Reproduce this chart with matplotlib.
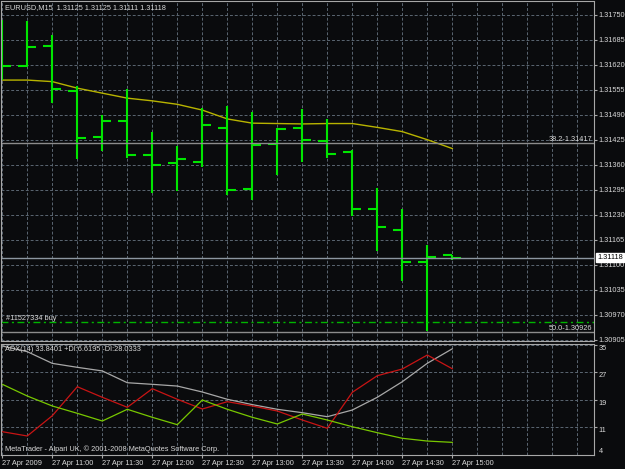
import matplotlib
matplotlib.use("Agg")
import matplotlib.pyplot as plt
import numpy as np

# M15 bars, 27 Apr 2009 10:30 .. 15:00
opens = [1.31650, 1.31616, 1.31669, 1.31552, 1.31432, 1.31474, 1.31386, 1.31364, 1.31367, 1.31456,
         1.31297, 1.31415, 1.31456, 1.31421, 1.31392, 1.31245, 1.31189, 1.31108, 1.31125]
highs = [1.31736, 1.31734, 1.31697, 1.31565, 1.31489, 1.31556, 1.31446, 1.31409, 1.31507, 1.31513,
         1.31496, 1.31456, 1.31504, 1.31479, 1.31398, 1.31299, 1.31244, 1.31151, 1.31125]
lows = [1.31580, 1.31615, 1.31520, 1.31375, 1.31396, 1.31377, 1.31286, 1.31292, 1.31353, 1.31281,
        1.31268, 1.31333, 1.31368, 1.31377, 1.31227, 1.31136, 1.31058, 1.30928, 1.31111]
closes = [1.31617, 1.31667, 1.31557, 1.31429, 1.31474, 1.31386, 1.31360, 1.31374, 1.31463, 1.31294,
          1.31410, 1.31454, 1.31424, 1.31389, 1.31246, 1.31197, 1.31108, 1.31121, 1.31118]
ma = [1.31580, 1.31580, 1.31576, 1.31559, 1.31546, 1.31533, 1.31526, 1.31517, 1.31502, 1.31479,
      1.31468, 1.31467, 1.31466, 1.31467, 1.31467, 1.31457, 1.31446, 1.31425, 1.31402]

adx_main = [34.65, 33.0, 29.6, 28.45, 27.4, 23.97, 23.5, 23.0, 21.27, 19.15,
            17.6, 16.24, 15.25, 14.08, 16.03, 19.73, 24.27, 29.62, 33.84]
plus_di = [23.51, 20.1, 17.2, 15.07, 12.83, 16.24, 13.91, 11.76, 18.94, 16.24,
           13.91, 11.96, 14.87, 13.12, 11.17, 9.43, 7.8, 7.0, 6.62]
minus_di = [9.72, 8.47, 14.37, 22.81, 19.73, 16.82, 22.23, 19.15, 16.32, 18.45,
            17.2, 15.74, 13.12, 10.71, 21.18, 26.01, 27.96, 32.03, 28.03]

time_labels = ["27 Apr 2009", "27 Apr 11:00", "27 Apr 11:30", "27 Apr 12:00", "27 Apr 12:30",
               "27 Apr 13:00", "27 Apr 13:30", "27 Apr 14:00", "27 Apr 14:30", "27 Apr 15:00"]
price_grid = [1.31750, 1.31685, 1.31620, 1.31555, 1.31490, 1.31425, 1.31360, 1.31295,
              1.31230, 1.31165, 1.31100, 1.31035, 1.30970, 1.30905]
adx_grid = [35, 27, 19, 11]

fibo_382 = 1.31417
fibo_500 = 1.30926
order_price = 1.30950
bid = 1.31118

BG = "#0a0b0d"
GRID = "#5b6672"
FRAME = "#a8a8a8"
TXT = "#d8d8d8"
BAR = "#00e600"

plt.rcParams["font.family"] = ["Liberation Sans", "DejaVu Sans"]
plt.rcParams["font.size"] = 5.3

W, H = 625, 469
fig = plt.figure(figsize=(6.25, 4.69), dpi=100, facecolor=BG)


def px_axes(left, top, right, bottom):
    return fig.add_axes([left / W, 1 - bottom / H, (right - left) / W, (bottom - top) / H])


idx = np.arange(len(opens))

# ---- price window
main = px_axes(1.5, 1.5, 594, 341)
main.set_facecolor(BG)
main.set_xlim(-0.032, 23.668)
main.set_ylim(1.309016, 1.317843)
main.set_xticks(range(24))
main.set_yticks(price_grid)
main.set_yticklabels([f"{p:.5f}" for p in price_grid])
main.grid(True, color=GRID, linestyle=(0, (3, 2)), linewidth=0.7)
main.set_axisbelow(True)
main.tick_params(axis="x", length=0, labelbottom=False)
main.tick_params(axis="y", left=False, labelleft=False, right=True, labelright=True,
                 length=2, color=FRAME, labelcolor=TXT, pad=1.5)
for s in main.spines.values():
    s.set_color(FRAME)

main.plot(idx, ma, color="#b8b400", linewidth=1.0)
main.vlines(idx, lows, highs, color=BAR, linewidth=1.5)
main.hlines(opens, idx - 0.36, idx, color=BAR, linewidth=1.5)
main.hlines(closes, idx, idx + 0.36, color=BAR, linewidth=1.5)

main.axhline(fibo_382, color="#8c8c8c", linewidth=1)
main.axhline(fibo_500, color="#8c8c8c", linewidth=1)
main.axhline(bid, color="#8c96a0", linewidth=1)
main.axhline(order_price, color="#00b400", linewidth=1, linestyle=(0, (5, 2.5, 1.5, 2.5)))

main.text(0.9966, fibo_382, "38.2-1.31417", transform=main.get_yaxis_transform(),
          ha="right", va="bottom", color=TXT)
main.text(0.9966, fibo_500, "50.0-1.30926", transform=main.get_yaxis_transform(),
          ha="right", va="bottom", color=TXT)
main.text(0.007, order_price, "#11527334 buy", transform=main.get_yaxis_transform(),
          ha="left", va="bottom", color=TXT)
main.text(1.0055, bid, "1.31118", transform=main.get_yaxis_transform(), ha="left", va="center",
          color="black", clip_on=False, zorder=5,
          bbox=dict(boxstyle="square,pad=0.15", fc="white", ec="white"))
main.text(0.006, 0.993, "EURUSD,M15  1.31125 1.31125 1.31111 1.31118", transform=main.transAxes,
          ha="left", va="top", color=TXT)

# ---- ADX window
adx = px_axes(1.5, 343.5, 594, 455)
adx.set_facecolor(BG)
adx.set_xlim(-0.032, 23.668)
adx.set_ylim(2.94, 35.38)
adx.set_xticks(range(0, 19, 2))
adx.set_xticklabels(time_labels, ha="left")
adx.set_xticks(range(24), minor=True)
adx.set_yticks(adx_grid)
adx.grid(True, which="both", color=GRID, linestyle=(0, (3, 2)), linewidth=0.7)
adx.set_axisbelow(True)
adx.tick_params(axis="x", which="major", length=2.5, color=FRAME, labelcolor=TXT, pad=1)
adx.tick_params(axis="x", which="minor", length=0)
adx.tick_params(axis="y", left=False, labelleft=False, right=True, length=2, color=FRAME)
for s in adx.spines.values():
    s.set_color(FRAME)

adx.plot(idx, adx_main, color="#a8a8a8", linewidth=0.9)
adx.plot(idx, minus_di, color="#c81414", linewidth=0.9)
adx.plot(idx, plus_di, color="#78c800", linewidth=0.9)

ytr = adx.get_yaxis_transform()
for v in adx_grid:
    adx.text(1.008, v, str(v), transform=ytr, ha="left", va="top", color=TXT, clip_on=False)
adx.text(1.008, 0.0, "4", transform=adx.transAxes, ha="left", va="bottom", color=TXT, clip_on=False)

adx.text(0.006, 0.975, "ADX(14) 33.8401 +DI:6.6195 -DI:28.0333", transform=adx.transAxes,
         ha="left", va="top", color=TXT)
adx.text(0.006, 0.02, "MetaTrader - Alpari UK, \u00a9 2001-2008 MetaQuotes Software Corp.",
         transform=adx.transAxes, ha="left", va="bottom", color=TXT)

fig.savefig("out.png", dpi=100, facecolor=BG)
